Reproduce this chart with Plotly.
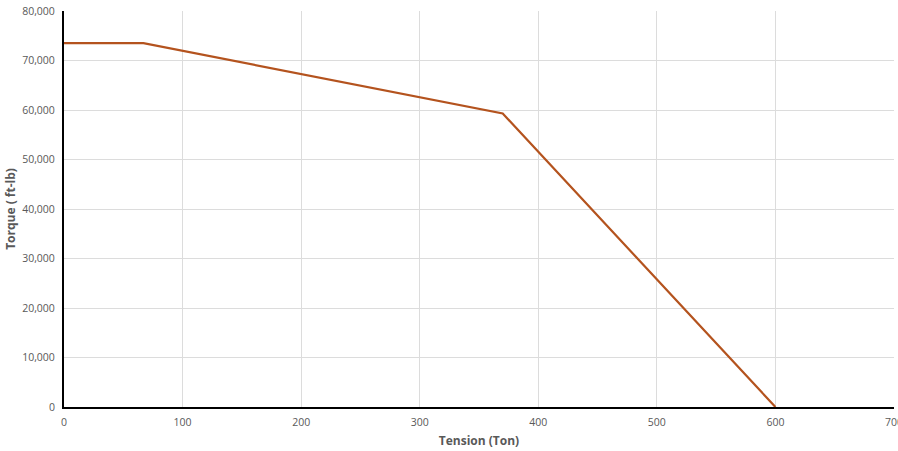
import plotly.graph_objects as go

tension = [0, 67, 370, 600]
torque = [73500, 73500, 59300, 0]

x_ticks = [0, 100, 200, 300, 400, 500, 600, 700]
y_ticks = [0, 10000, 20000, 30000, 40000, 50000, 60000, 70000, 80000]

fig = go.Figure()
fig.add_trace(go.Scatter(x=tension, y=torque, mode="lines",
                         line=dict(color="#b4531e", width=2.2),
                         showlegend=False, hoverinfo="skip"))

font_family = "Open Sans, Liberation Sans, sans-serif"
fig.update_layout(
    width=898, height=451,
    margin=dict(l=64, r=4, t=11, b=44, autoexpand=False),
    paper_bgcolor="white", plot_bgcolor="white",
    font=dict(family=font_family, color="#595959", size=10.5),
)
fig.update_xaxes(
    range=[0, 700], tickvals=x_ticks, ticktext=[str(v) for v in x_ticks],
    showgrid=True, gridcolor="#dcdcdc", gridwidth=1,
    showline=True, linecolor="black", linewidth=2,
    zeroline=False, ticks="", ticklen=0, automargin=False,
    ticklabeloverflow="allow", ticklabelstandoff=4,
    title=dict(text="<b>Tension (Ton)</b>", font=dict(size=12, color="#595959"), standoff=9),
)
fig.update_yaxes(
    range=[0, 80000], tickvals=y_ticks,
    ticktext=[f"{v:,}" for v in y_ticks],
    showgrid=True, gridcolor="#dcdcdc", gridwidth=1,
    showline=True, linecolor="black", linewidth=2,
    zeroline=False, ticks="", ticklen=0, automargin=False,
    ticklabeloverflow="allow", ticklabelstandoff=5,
    title=dict(text="<b>Torque ( ft-lb)</b>", font=dict(size=12, color="#595959"), standoff=4),
)
fig.write_html("out.html", config={"displayModeBar": False},
               post_script="document.body.style.margin='0';document.body.style.overflow='hidden';")
